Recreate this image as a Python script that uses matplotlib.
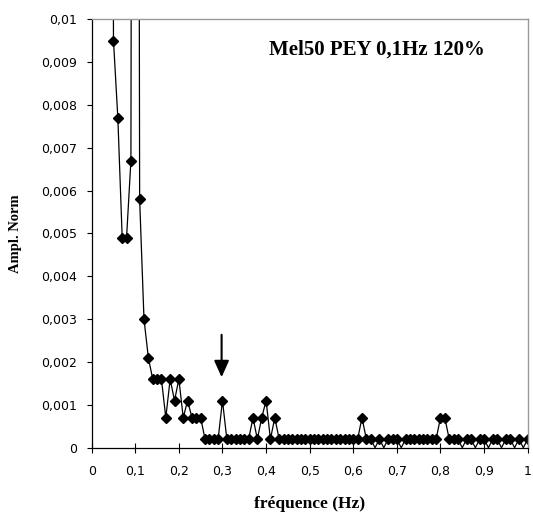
import matplotlib
matplotlib.use('Agg')
import matplotlib.pyplot as plt
import numpy as np

# fréquences de 0,04 à 1,00 Hz (pas de 0,01)
freq = [round(0.04 + 0.01 * i, 2) for i in range(97)]

ampl = [
    0.05, 0.0095, 0.0077, 0.0049, 0.0049, 0.0067, 0.065, 0.0058, 0.0030, 0.0021,   # 0.04-0.13
    0.0016, 0.0016, 0.0016, 0.0007, 0.0016, 0.0011, 0.0016, 0.0007, 0.0011, 0.0007,  # 0.14-0.23
    0.0007, 0.0007, 0.0002, 0.0002, 0.0002, 0.0002, 0.0011, 0.0002, 0.0002, 0.0002,  # 0.24-0.33
    0.0002, 0.0002, 0.0002, 0.0007, 0.0002, 0.0007, 0.0011, 0.0002, 0.0007, 0.0002,  # 0.34-0.43
    0.0002, 0.0002, 0.0002, 0.0002, 0.0002, 0.0002, 0.0002, 0.0002, 0.0002, 0.0002,  # 0.44-0.53
    0.0002, 0.0002, 0.0002, 0.0002, 0.0002, 0.0002, 0.0002, 0.0002, 0.0007, 0.0002,  # 0.54-0.63
    0.0002, 0.0, 0.0002, 0.0, 0.0002, 0.0002, 0.0002, 0.0, 0.0002, 0.0002,           # 0.64-0.73
    0.0002, 0.0002, 0.0002, 0.0002, 0.0002, 0.0002, 0.0007, 0.0007, 0.0002, 0.0002,  # 0.74-0.83
    0.0002, 0.0, 0.0002, 0.0002, 0.0, 0.0002, 0.0002, 0.0, 0.0002, 0.0002,           # 0.84-0.93
    0.0, 0.0002, 0.0002, 0.0, 0.0002, 0.0, 0.0002,                                   # 0.94-1.00
]

xticks = [0, 0.1, 0.2, 0.3, 0.4, 0.5, 0.6, 0.7, 0.8, 0.9, 1]
xticklabels = ['0', '0,1', '0,2', '0,3', '0,4', '0,5', '0,6', '0,7', '0,8', '0,9', '1']
yticks = [0, 0.001, 0.002, 0.003, 0.004, 0.005, 0.006, 0.007, 0.008, 0.009, 0.01]
yticklabels = ['0', '0,001', '0,002', '0,003', '0,004', '0,005', '0,006',
               '0,007', '0,008', '0,009', '0,01']

fig = plt.figure(figsize=(5.33, 5.17), dpi=100)
ax = fig.add_axes([0.172, 0.134, 0.818, 0.829])

# ligne + marqueurs (pas de marqueur sur les valeurs nulles)
marks = [i for i, v in enumerate(ampl) if v > 0]
ax.plot(freq, ampl, color='black', linewidth=0.9, marker='D', markersize=4.8,
        markevery=marks, markerfacecolor='black', markeredgecolor='black')

ax.set_xlim(0, 1)
ax.set_ylim(0, 0.01)
ax.set_xticks(xticks)
ax.set_xticklabels(xticklabels, fontsize=9, family='DejaVu Sans')
ax.set_yticks(yticks)
ax.set_yticklabels(yticklabels, fontsize=9, family='DejaVu Sans')
ax.tick_params(axis='x', direction='inout', length=7, width=0.8, pad=9)
ax.tick_params(axis='y', direction='out', length=3.5, width=0.8, pad=7)

for s in ['top', 'right']:
    ax.spines[s].set_color('#999999')
    ax.spines[s].set_linewidth(1.0)
for s in ['left', 'bottom']:
    ax.spines[s].set_color('black')
    ax.spines[s].set_linewidth(0.9)

ax.set_xlabel('fréquence (Hz)', fontsize=12.5, fontweight='bold',
              family='Liberation Serif', labelpad=13)
ax.set_ylabel('Ampl. Norm', fontsize=10.5, fontweight='bold',
              family='Liberation Serif', labelpad=14)

ax.text(0.654, 0.0093, 'Mel50 PEY 0,1Hz 120%', fontsize=15, fontweight='bold',
        family='Liberation Serif', ha='center', va='center')

# flèche vers le pic à 0,3 Hz
ax.annotate('', xy=(0.298, 0.00158), xytext=(0.298, 0.0027),
            arrowprops=dict(arrowstyle='-|>,head_width=0.45,head_length=1.0',
                            color='black', linewidth=1.5))

fig.savefig('out.png', dpi=100)
